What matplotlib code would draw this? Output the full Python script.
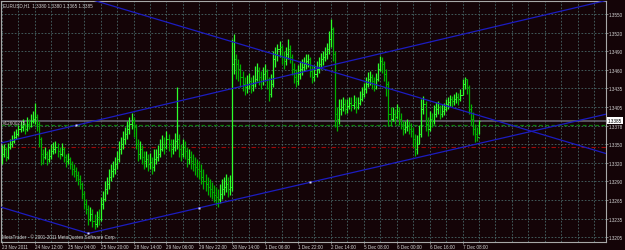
import matplotlib
matplotlib.use("Agg")
import matplotlib.pyplot as plt
import matplotlib.transforms as mtransforms
import numpy as np

# ---------------- data (EURUSD H1 bars) ----------------
highs = [
    1.3348, 1.3349, 1.3344, 1.3351, 1.3357, 1.3363, 1.3369, 1.3372, 1.3378, 1.3385,
    1.3388, 1.3382, 1.3391, 1.3388, 1.3395, 1.3400, 1.3412, 1.3395, 1.3385, 1.3360,
    1.3341, 1.3344, 1.3338, 1.3341, 1.3349, 1.3352, 1.3354, 1.3351, 1.3344, 1.3351,
    1.3344, 1.3334, 1.3335, 1.3329, 1.3323, 1.3318, 1.3314, 1.3307, 1.3301, 1.3290,
    1.3276, 1.3264, 1.3255, 1.3252, 1.3249, 1.3241, 1.3245, 1.3249, 1.3267, 1.3276,
    1.3292, 1.3298, 1.3310, 1.3318, 1.3323, 1.3329, 1.3338, 1.3354, 1.3360, 1.3369,
    1.3375, 1.3385, 1.3391, 1.3397, 1.3391, 1.3380, 1.3357, 1.3354, 1.3348, 1.3338,
    1.3338, 1.3334, 1.3335, 1.3329, 1.3341, 1.3341, 1.3348, 1.3357, 1.3363, 1.3360,
    1.3369, 1.3365, 1.3357, 1.3357, 1.3366, 1.3437, 1.3365, 1.3349, 1.3357, 1.3354,
    1.3344, 1.3341, 1.3338, 1.3334, 1.3329, 1.3326, 1.3323, 1.3318, 1.3310, 1.3303,
    1.3298, 1.3295, 1.3290, 1.3286, 1.3283, 1.3280, 1.3287, 1.3295, 1.3298, 1.3303,
    1.3298, 1.3301, 1.3511, 1.3519, 1.3488, 1.3480, 1.3473, 1.3462, 1.3453, 1.3456,
    1.3459, 1.3453, 1.3456, 1.3470, 1.3474, 1.3468, 1.3462, 1.3468, 1.3473, 1.3465,
    1.3453, 1.3457, 1.3493, 1.3499, 1.3504, 1.3508, 1.3502, 1.3493, 1.3499, 1.3511,
    1.3502, 1.3488, 1.3474, 1.3465, 1.3471, 1.3477, 1.3480, 1.3484, 1.3488, 1.3488,
    1.3484, 1.3471, 1.3471, 1.3477, 1.3484, 1.3490, 1.3493, 1.3499, 1.3505, 1.3524,
    1.3542, 1.3530, 1.3493, 1.3406, 1.3419, 1.3419, 1.3422, 1.3419, 1.3419, 1.3422,
    1.3422, 1.3425, 1.3422, 1.3422, 1.3431, 1.3437, 1.3443, 1.3453, 1.3460, 1.3462,
    1.3457, 1.3453, 1.3459, 1.3474, 1.3485, 1.3484, 1.3477, 1.3465, 1.3446, 1.3406,
    1.3406, 1.3403, 1.3411, 1.3406, 1.3397, 1.3385, 1.3385, 1.3388, 1.3385, 1.3382,
    1.3375, 1.3365, 1.3363, 1.3378, 1.3419, 1.3423, 1.3416, 1.3391, 1.3400, 1.3397,
    1.3409, 1.3414, 1.3416, 1.3409, 1.3411, 1.3412, 1.3419, 1.3422, 1.3425, 1.3423,
    1.3426, 1.3429, 1.3428, 1.3434, 1.3449, 1.3453, 1.3449, 1.3440, 1.3411, 1.3399,
    1.3380, 1.3375, 1.3386,
]
lows = [
    1.3318, 1.3329, 1.3323, 1.3326, 1.3341, 1.3344, 1.3351, 1.3357, 1.3361, 1.3368,
    1.3369, 1.3365, 1.3369, 1.3372, 1.3375, 1.3382, 1.3380, 1.3369, 1.3344, 1.3317,
    1.3318, 1.3326, 1.3317, 1.3321, 1.3326, 1.3334, 1.3335, 1.3329, 1.3326, 1.3331,
    1.3321, 1.3314, 1.3318, 1.3310, 1.3301, 1.3298, 1.3292, 1.3286, 1.3280, 1.3264,
    1.3249, 1.3241, 1.3224, 1.3230, 1.3221, 1.3218, 1.3221, 1.3224, 1.3230, 1.3249,
    1.3261, 1.3272, 1.3280, 1.3292, 1.3298, 1.3303, 1.3310, 1.3321, 1.3334, 1.3341,
    1.3349, 1.3357, 1.3365, 1.3372, 1.3360, 1.3341, 1.3323, 1.3326, 1.3318, 1.3310,
    1.3314, 1.3307, 1.3310, 1.3303, 1.3307, 1.3318, 1.3323, 1.3329, 1.3338, 1.3334,
    1.3341, 1.3338, 1.3329, 1.3334, 1.3338, 1.3341, 1.3329, 1.3323, 1.3329, 1.3326,
    1.3314, 1.3318, 1.3310, 1.3307, 1.3301, 1.3298, 1.3295, 1.3287, 1.3280, 1.3276,
    1.3270, 1.3267, 1.3264, 1.3259, 1.3255, 1.3252, 1.3258, 1.3264, 1.3270, 1.3275,
    1.3267, 1.3270, 1.3276, 1.3457, 1.3449, 1.3446, 1.3437, 1.3431, 1.3425, 1.3428,
    1.3434, 1.3428, 1.3431, 1.3437, 1.3446, 1.3440, 1.3434, 1.3440, 1.3446, 1.3434,
    1.3416, 1.3422, 1.3437, 1.3468, 1.3477, 1.3484, 1.3473, 1.3465, 1.3471, 1.3480,
    1.3474, 1.3456, 1.3443, 1.3437, 1.3440, 1.3449, 1.3456, 1.3462, 1.3465, 1.3468,
    1.3453, 1.3443, 1.3446, 1.3453, 1.3459, 1.3465, 1.3471, 1.3477, 1.3480, 1.3488,
    1.3499, 1.3477, 1.3375, 1.3369, 1.3380, 1.3394, 1.3400, 1.3395, 1.3397, 1.3403,
    1.3400, 1.3403, 1.3397, 1.3403, 1.3409, 1.3416, 1.3422, 1.3428, 1.3437, 1.3440,
    1.3434, 1.3431, 1.3434, 1.3446, 1.3462, 1.3459, 1.3446, 1.3423, 1.3377, 1.3377,
    1.3385, 1.3380, 1.3388, 1.3378, 1.3372, 1.3363, 1.3366, 1.3369, 1.3365, 1.3360,
    1.3344, 1.3331, 1.3334, 1.3349, 1.3360, 1.3395, 1.3369, 1.3361, 1.3369, 1.3375,
    1.3380, 1.3391, 1.3395, 1.3388, 1.3391, 1.3394, 1.3400, 1.3403, 1.3408, 1.3406,
    1.3409, 1.3412, 1.3409, 1.3416, 1.3425, 1.3434, 1.3426, 1.3395, 1.3378, 1.3363,
    1.3352, 1.3354, 1.3365,
]
closes = [
    1.3334, 1.3341, 1.3329, 1.3344, 1.3349, 1.3354, 1.3360, 1.3365, 1.3372, 1.3375,
    1.3378, 1.3372, 1.3380, 1.3377, 1.3385, 1.3388, 1.3391, 1.3380, 1.3357, 1.3334,
    1.3329, 1.3334, 1.3326, 1.3331, 1.3338, 1.3341, 1.3344, 1.3338, 1.3334, 1.3341,
    1.3329, 1.3323, 1.3326, 1.3318, 1.3310, 1.3307, 1.3301, 1.3295, 1.3287, 1.3272,
    1.3256, 1.3249, 1.3233, 1.3241, 1.3230, 1.3225, 1.3236, 1.3233, 1.3256, 1.3264,
    1.3280, 1.3287, 1.3298, 1.3307, 1.3310, 1.3318, 1.3326, 1.3341, 1.3349, 1.3357,
    1.3365, 1.3372, 1.3380, 1.3385, 1.3375, 1.3349, 1.3334, 1.3341, 1.3329, 1.3323,
    1.3326, 1.3318, 1.3321, 1.3314, 1.3326, 1.3329, 1.3334, 1.3341, 1.3349, 1.3344,
    1.3357, 1.3349, 1.3341, 1.3344, 1.3354, 1.3357, 1.3341, 1.3334, 1.3344, 1.3338,
    1.3326, 1.3329, 1.3323, 1.3318, 1.3314, 1.3310, 1.3307, 1.3298, 1.3292, 1.3287,
    1.3283, 1.3280, 1.3275, 1.3270, 1.3267, 1.3264, 1.3272, 1.3280, 1.3283, 1.3287,
    1.3280, 1.3283, 1.3473, 1.3480, 1.3473, 1.3465, 1.3453, 1.3442, 1.3437, 1.3442,
    1.3446, 1.3440, 1.3443, 1.3449, 1.3462, 1.3453, 1.3446, 1.3457, 1.3462, 1.3449,
    1.3426, 1.3442, 1.3480, 1.3488, 1.3496, 1.3499, 1.3484, 1.3477, 1.3488, 1.3496,
    1.3484, 1.3465, 1.3453, 1.3446, 1.3457, 1.3465, 1.3468, 1.3473, 1.3477, 1.3480,
    1.3462, 1.3453, 1.3457, 1.3465, 1.3473, 1.3480, 1.3484, 1.3488, 1.3496, 1.3511,
    1.3527, 1.3488, 1.3395, 1.3388, 1.3403, 1.3406, 1.3411, 1.3403, 1.3408, 1.3412,
    1.3409, 1.3414, 1.3406, 1.3412, 1.3419, 1.3426, 1.3434, 1.3442, 1.3449, 1.3453,
    1.3446, 1.3442, 1.3449, 1.3465, 1.3477, 1.3473, 1.3457, 1.3442, 1.3395, 1.3388,
    1.3395, 1.3391, 1.3400, 1.3388, 1.3380, 1.3372, 1.3375, 1.3377, 1.3372, 1.3369,
    1.3357, 1.3341, 1.3349, 1.3365, 1.3403, 1.3411, 1.3380, 1.3372, 1.3388, 1.3385,
    1.3395, 1.3403, 1.3406, 1.3395, 1.3400, 1.3403, 1.3411, 1.3414, 1.3419, 1.3416,
    1.3419, 1.3422, 1.3419, 1.3425, 1.3442, 1.3449, 1.3437, 1.3403, 1.3388, 1.3372,
    1.3365, 1.3360, 1.3385,
]

x_tick_index = [0, 16, 32, 48, 64, 80, 96, 112, 128, 144, 160, 176, 192, 208, 224]
x_tick_labels = ["23 Nov 2011", "24 Nov 12:00", "25 Nov 04:00", "25 Nov 20:00",
                 "28 Nov 14:00", "29 Nov 06:00", "29 Nov 22:00", "30 Nov 14:00",
                 "1 Dec 06:00", "1 Dec 22:00", "2 Dec 14:00", "5 Dec 08:00",
                 "6 Dec 00:00", "6 Dec 16:00", "7 Dec 08:00"]
y_tick_values = [1.32050, 1.32338, 1.32625, 1.32913, 1.33200, 1.33488, 1.33775,
                 1.34063, 1.34350, 1.34638, 1.34925, 1.35213, 1.35500]
y_tick_labels = ["1.3205", "1.3235", "1.3265", "1.3290", "1.3320", "1.3350", "1.3378",
                 "1.3405", "1.3435", "1.3460", "1.3490", "1.3520", "1.3550"]

bid_price = 1.3385
order_price = 1.3378
stop_price = 1.3344

# trend lines: anchor points (bar index, price)
up_upper = [(36, 1.3378), (290, 1.3568)]
up_lower = [(42, 1.3211), (150, 1.3290)]
down_upper = [(48, 1.3568), (290, 1.3338)]
down_lower = [(-2, 1.3253), (42, 1.3211)]
anchor_dots_x = [36, 42, 96, 150]
anchor_dots_y = [1.3378, 1.3211, 1.3251, 1.3290]

title_text = "EURUSD,H1  1.3380 1.3380 1.3365 1.3385"
order_text = "#12600275"
copyright_text = "MetaTrader - \u00a9 2001-2011 MetaQuotes Software Corp."

# ---------------- styling ----------------
BG = "#140407"
GRID = "#486868"
TXT = "#d4d4d4"
FRAME = "#a8a8a8"
UP = "#2cff2c"
DOWN = "#00b000"
BLUE = "#1c1cc0"
FONT = "Liberation Sans"
FS = 3.35

W, H = 625, 251
fig = plt.figure(figsize=(W / 100, H / 100), dpi=100, facecolor=BG)
ax = fig.add_axes([1 / W, 1 - 243 / H, 605 / W, 241.5 / H], facecolor=BG)

xmin, xmax = -0.49, 293.8
ymin, ymax = 1.31977, 1.35709
ax.set_xlim(xmin, xmax)
ax.set_ylim(ymin, ymax)

# grid
for gx in range(0, 294, 8):
    ax.axvline(gx, color=GRID, lw=0.6, ls=(0, (2, 2)), zorder=1)
for gy in y_tick_values:
    ax.axhline(gy, color=GRID, lw=0.6, ls=(0, (2, 2)), zorder=1)

# horizontal lines
ax.axhline(bid_price, color="#6c6c78", lw=1.1, zorder=2)
ax.axhline(order_price, color="#0b7a0b", lw=0.9, ls=(0, (3, 2)), zorder=2)
ax.axhline(stop_price, color="#9a0c0c", lw=0.8, ls=(0, (4, 2, 1, 2)), zorder=2)

# bars
idx = np.arange(len(closes))
cl = np.array(closes)
op = np.concatenate([[cl[0]], cl[:-1]])
cols = [UP if c >= o else DOWN for c, o in zip(cl, op)]
ax.vlines(idx, lows, highs, colors=cols, lw=0.9, zorder=3)
ax.hlines(cl, idx, idx + 0.55, colors=cols, lw=0.7, zorder=3)
ax.hlines(op, idx - 0.55, idx, colors=cols, lw=0.7, zorder=3)


def extend(p1, p2, left, right):
    (x1, y1), (x2, y2) = p1, p2
    k = (y2 - y1) / (x2 - x1)
    xa = xmin - 5 if left else x1
    xb = xmax + 5 if right else x2
    return [xa, xb], [y1 + k * (xa - x1), y1 + k * (xb - x1)]


for pts, l, r in [(up_upper, True, True), (up_lower, False, True),
                  (down_upper, True, True), (down_lower, True, False)]:
    xs, ys = extend(pts[0], pts[1], l, r)
    ax.plot(xs, ys, color=BLUE, lw=0.9, zorder=4)

ax.plot(anchor_dots_x, anchor_dots_y, ls="none", marker="s", ms=1.6,
        mfc="#d8d8ff", mec="none", zorder=5)

# frame
for s in ax.spines.values():
    s.set_color(FRAME)
    s.set_linewidth(0.8)

# ticks
ax.yaxis.tick_right()
ax.set_yticks(y_tick_values)
ax.set_yticklabels(y_tick_labels)
ax.set_xticks(x_tick_index)
ax.set_xticklabels(x_tick_labels, ha="left")
ax.tick_params(axis="y", direction="out", length=1.5, width=0.5, color=FRAME,
               labelcolor=TXT, labelsize=FS, pad=0.6)
ax.tick_params(axis="x", direction="out", length=1.2, width=0.5, color=FRAME,
               labelcolor=TXT, labelsize=FS, pad=0.4)
for lab in ax.get_xticklabels() + ax.get_yticklabels():
    lab.set_fontfamily(FONT)

# texts
ax.text(0.004, 0.992, title_text, transform=ax.transAxes, ha="left", va="top",
        color=TXT, fontsize=FS, fontfamily=FONT, zorder=6)
ax.text(0.002, 0.012, copyright_text, transform=ax.transAxes, ha="left",
        va="bottom", color=TXT, fontsize=FS, fontfamily=FONT, zorder=6)
blend = mtransforms.blended_transform_factory(ax.transAxes, ax.transData)
ax.text(0.004, 1.3383, order_text, transform=blend, ha="left", va="center",
        color="#c8c8c8", fontsize=FS, fontfamily=FONT, zorder=6)
ax.text(1.003, bid_price, "1.3385", transform=blend, ha="left", va="center",
        color="black", fontsize=FS, fontfamily=FONT, zorder=7, clip_on=False,
        bbox=dict(facecolor="white", edgecolor="none", pad=0.6))

fig.savefig("out.png", dpi=100, facecolor=BG)
